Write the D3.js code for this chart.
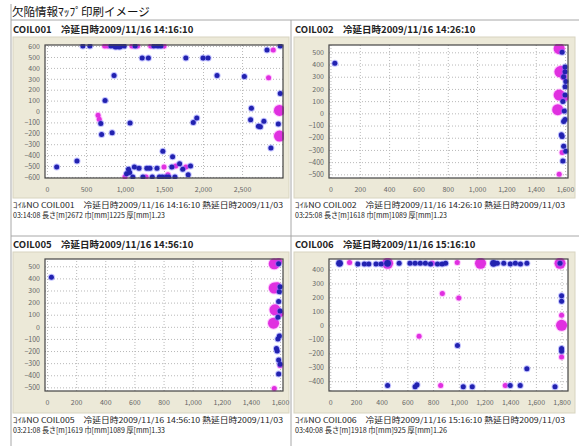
<!DOCTYPE html>
<html>
<head>
<meta charset="utf-8">
<script src="https://cdn.jsdelivr.net/npm/d3@7/dist/d3.min.js"></script>
<style>
  body { margin: 0; background: #fff; }
  svg { display: block; }
  text { font-family: "Noto Sans CJK JP", "DejaVu Sans", sans-serif; }
</style>
</head>
<body>
<script>
// page title and coil records
const pageTitle = '欠陥情報ﾏｯﾌﾟ印刷イメージ'
const coilHeaders = [
  'COIL001　冷延日時2009/11/16 14:16:10',
  'COIL002　冷延日時2009/11/16 14:26:10',
  'COIL005　冷延日時2009/11/16 14:56:10',
  'COIL006　冷延日時2009/11/16 15:16:10'
]
const coilFooters = [
  ['ｺｲﾙNO COIL001　冷延日時2009/11/16 14:16:10 熱延日時2009/11/03', '03:14:08 長さ[m]2672 巾[mm]1225 厚[mm]1.23'],
  ['ｺｲﾙNO COIL002　冷延日時2009/11/16 14:26:10 熱延日時2009/11/03', '03:25:08 長さ[m]1618 巾[mm]1089 厚[mm]1.23'],
  ['ｺｲﾙNO COIL005　冷延日時2009/11/16 14:56:10 熱延日時2009/11/03', '03:21:08 長さ[m]1619 巾[mm]1089 厚[mm]1.33'],
  ['ｺｲﾙNO COIL006　冷延日時2009/11/16 15:16:10 熱延日時2009/11/03', '03:40:08 長さ[m]1918 巾[mm]925 厚[mm]1.26']
]

// axis ticks
const xTicks = [
  [0, 500, 1000, 1500, 2000, 2500],
  [0, 200, 400, 600, 800, 1000, 1200, 1400, 1600],
  [0, 200, 400, 600, 800, 1000, 1200, 1400, 1600],
  [0, 200, 400, 600, 800, 1000, 1200, 1400, 1600, 1800]
]
const yTicks = [
  [600, 500, 400, 300, 200, 100, 0, -100, -200, -300, -400, -500, -600],
  [500, 400, 300, 200, 100, 0, -100, -200, -300, -400, -500],
  [500, 400, 300, 200, 100, 0, -100, -200, -300, -400, -500],
  [400, 300, 200, 100, 0, -100, -200, -300, -400]
]
const xDomains = [[-25, 3025], [-10, 1620], [-14, 1620], [-10, 1850]]
const yDomains = [[-610, 610], [-530, 560], [-530, 560], [-470, 475]]

// defects: [length position, width position, grade]
const coil001Blue = [
  [460, 600, 1], [550, 600, 1], [820, 600, 1], [880, 600, 2], [930, 600, 2], [990, 600, 1],
  [1130, 600, 1], [1370, 600, 1], [1420, 600, 1], [1460, 600, 1], [2820, 565, 1], [2990, 600, 1],
  [1220, 490, 1], [1300, 490, 1], [1780, 490, 1], [2000, 490, 1], [2065, 490, 1],
  [860, 330, 1], [2180, 330, 1], [2530, 320, 1], [2990, 165, 1], [745, 100, 1], [2620, 30, 1],
  [690, -110, 1], [1065, -105, 1], [2610, -75, 1], [1920, -60, 1], [1875, -100, 1],
  [2710, -135, 1], [2735, -140, 1], [2780, -90, 1], [2965, -115, 1], [700, -210, 1], [835, -195, 1],
  [2870, -335, 1], [1485, -365, 1], [1610, -415, 1], [385, -455, 1], [125, -510, 1],
  [1020, -570, 1], [1045, -530, 1], [1060, -560, 1], [1100, -600, 1], [1120, -510, 1], [1180, -520, 1],
  [1230, -600, 1], [1280, -520, 1], [1320, -520, 1], [1350, -600, 1], [1410, -520, 1], [1440, -600, 1],
  [1480, -600, 1], [1530, -600, 1], [1560, -600, 1], [1600, -510, 1], [1640, -600, 1], [1700, -480, 1],
  [1740, -530, 1], [1810, -580, 1], [1840, -500, 1]
]
const coil001Pink = [
  [740, 600, 1], [780, 600, 1], [1090, 600, 1], [1160, 600, 1], [1330, 600, 1], [1500, 600, 1],
  [2900, 565, 1], [2840, 310, 1], [655, -35, 1], [670, -70, 1], [1000, -600, 1], [1500, -510, 1],
  [1270, -600, 1], [1650, -500, 1], [1780, -510, 1], [1550, -580, 1], [2980, 10, 3], [2980, -225, 3]
]
const coil002Blue = [
  [30, 410, 1], [1580, 500, 1], [1600, 380, 1], [1600, 340, 1], [1590, 300, 1], [1605, 260, 1],
  [1600, 218, 1], [1600, 150, 1], [1585, 96, 1], [1595, 20, 1], [1590, -67, 1], [1600, -50, 1],
  [1575, -175, 1], [1580, -190, 1], [1590, -270, 1], [1605, -310, 1], [1585, -390, 1]
]
const coil002Pink = [
  [1560, 530, 3], [1565, 340, 3], [1560, 150, 3], [1550, 30, 3], [1575, 360, 2], [1600, 130, 2],
  [1590, 300, 2], [1560, -500, 1], [1580, -320, 1]
]
const coil005Blue = [
  [30, 410, 1], [1590, 520, 1], [1600, 330, 1], [1595, 290, 1], [1590, 210, 1], [1600, 130, 1],
  [1585, 80, 1], [1595, -75, 1], [1585, -100, 1], [1575, -180, 1], [1580, -200, 1], [1590, -275, 1],
  [1600, -310, 1], [1590, -390, 1]
]
const coil005Pink = [
  [1560, 520, 3], [1560, 320, 3], [1565, 140, 3], [1555, 30, 3], [1590, 540, 2], [1600, 110, 2],
  [1580, 340, 2], [1600, -320, 1], [1560, -510, 1]
]
const coil006Blue = [
  [72, 444, 2], [214, 440, 1], [265, 440, 1], [300, 440, 1], [356, 440, 1], [395, 440, 1], [446, 444, 2],
  [536, 444, 1], [620, 444, 1], [660, 444, 1], [700, 444, 1], [740, 444, 1], [780, 440, 1],
  [834, 440, 1], [870, 440, 1], [898, 444, 1], [1270, 444, 2], [1300, 444, 1], [1350, 444, 1],
  [1400, 440, 1], [1440, 444, 1], [1480, 440, 1], [1530, 444, 1], [1788, 444, 1],
  [990, -145, 1], [1530, -310, 1], [1800, 212, 1], [1800, 172, 1], [1800, -165, 1], [1800, -185, 1],
  [446, -430, 1], [660, -440, 1], [675, -425, 1], [1035, -440, 1], [1105, -440, 1], [1400, -430, 1],
  [1478, -430, 1], [1749, -440, 1]
]
const coil006Pink = [
  [150, 450, 1], [446, 444, 3], [795, 444, 1], [988, 450, 1], [1169, 444, 3], [1788, 444, 3],
  [872, 228, 1], [1000, 196, 1], [691, -78, 1], [1800, 73, 1], [1800, 0, 3], [1800, -226, 1],
  [859, -430, 1], [1362, -430, 1]
]
const blueSets = [coil001Blue, coil002Blue, coil005Blue, coil006Blue]
const pinkSets = [coil001Pink, coil002Pink, coil005Pink, coil006Pink]

const W = 579, H = 446
const svg = d3.select('body').append('svg').attr('width', W).attr('height', H)

const lineColor = '#a8a8a8'
const beige = '#ece9d8'
const radius = d3.scaleOrdinal().domain([1, 2, 3]).range([2.5, 3.4, 5.5])
const fmt = d3.format(',')

// page frame
svg.append('text').attr('x', 12).attr('y', 16).attr('font-size', 11.5).attr('fill', '#111').text(pageTitle)
const frame = [[11, 4, 11, H], [11, 20, W, 20], [291, 20, 291, H], [11, 236, W, 236]]
frame.forEach(([x1, y1, x2, y2]) => {
  svg.append('line').attr('x1', x1).attr('y1', y1).attr('x2', x2).attr('y2', y2)
    .attr('stroke', lineColor).attr('stroke-width', 1)
})

const cols = [
  { bx0: 13, bx1: 289, px0: 45, px1: 283, tx: 13 },
  { bx0: 294, bx1: 575, px0: 329, px1: 568, tx: 295 }
]
const rows = [
  { by0: 37, by1: 198, py0: 45, py1: 178, hy: 33, fy: [208, 218] },
  { by0: 252, by1: 413, py0: 259, py1: 391, hy: 248, fy: [423, 433] }
]
const footerWidths = [270, 152]

const drawPanel = (i) => {
  const c = cols[i % 2], r = rows[Math.floor(i / 2)]
  const g = svg.append('g')

  g.append('text').attr('x', c.tx).attr('y', r.hy).attr('font-size', 9.5)
    .attr('font-weight', 'bold').attr('fill', '#222').text(coilHeaders[i])

  g.append('rect').attr('x', c.bx0).attr('y', r.by0)
    .attr('width', c.bx1 - c.bx0).attr('height', r.by1 - r.by0)
    .attr('fill', beige).attr('stroke', '#d8d4c0')

  const x = d3.scaleLinear().domain(xDomains[i]).range([c.px0, c.px1])
  const y = d3.scaleLinear().domain(yDomains[i]).range([r.py1, r.py0])

  g.append('rect').attr('x', c.px0).attr('y', r.py0)
    .attr('width', c.px1 - c.px0).attr('height', r.py1 - r.py0).attr('fill', '#fff')

  // grid
  g.append('g').attr('transform', `translate(0,${r.py1})`)
    .call(d3.axisBottom(x).tickValues(xTicks[i]).tickSize(-(r.py1 - r.py0)).tickFormat(''))
    .call(a => a.select('.domain').remove())
    .call(a => a.selectAll('line').attr('stroke', '#b8b8b8').attr('stroke-dasharray', '1,2'))
  g.append('g').attr('transform', `translate(${c.px0},0)`)
    .call(d3.axisLeft(y).tickValues(yTicks[i]).tickSize(-(c.px1 - c.px0)).tickFormat(''))
    .call(a => a.select('.domain').remove())
    .call(a => a.selectAll('line').attr('stroke', '#b8b8b8').attr('stroke-dasharray', '1,2'))

  // tick labels
  g.append('g').attr('transform', `translate(0,${r.py1})`)
    .call(d3.axisBottom(x).tickValues(xTicks[i]).tickSize(0).tickPadding(9).tickFormat(fmt))
    .call(a => a.select('.domain').remove())
    .call(a => a.selectAll('text').attr('font-size', 7).attr('fill', '#666')
      .attr('font-family', '"Liberation Serif", serif'))
  g.append('g').attr('transform', `translate(${c.px0},0)`)
    .call(d3.axisLeft(y).tickValues(yTicks[i]).tickSize(0).tickPadding(5).tickFormat(fmt))
    .call(a => a.select('.domain').remove())
    .call(a => a.selectAll('text').attr('font-size', 7).attr('fill', '#666')
      .attr('font-family', '"Liberation Serif", serif'))

  const clipId = 'clip' + i
  g.append('clipPath').attr('id', clipId).append('rect')
    .attr('x', c.px0 - 1).attr('y', r.py0 - 1)
    .attr('width', c.px1 - c.px0 + 2).attr('height', r.py1 - r.py0 + 2)
  const dots = g.append('g').attr('clip-path', `url(#${clipId})`)

  const drawDots = (data, glow, core) => {
    dots.selectAll(null).data(data).enter().append('circle')
      .attr('cx', d => x(d[0])).attr('cy', d => y(d[1]))
      .attr('r', d => radius(d[2]) + 1).attr('fill', glow).attr('opacity', 0.45)
    dots.selectAll(null).data(data).enter().append('circle')
      .attr('cx', d => x(d[0])).attr('cy', d => y(d[1]))
      .attr('r', d => radius(d[2])).attr('fill', core)
  }
  drawDots(pinkSets[i], '#ff80ff', '#e030e0')
  drawDots(blueSets[i], '#7070ff', '#2222b0')

  g.append('rect').attr('x', c.px0).attr('y', r.py0)
    .attr('width', c.px1 - c.px0).attr('height', r.py1 - r.py0)
    .attr('fill', 'none').attr('stroke', '#444').attr('stroke-width', 1.2)

  coilFooters[i].forEach((t, k) => {
    g.append('text').attr('x', c.tx).attr('y', r.fy[k]).attr('font-size', 7.5)
      .attr('textLength', footerWidths[k]).attr('lengthAdjust', 'spacingAndGlyphs')
      .attr('fill', '#222').text(t)
  })
}

d3.range(4).forEach(drawPanel)
</script>
</body>
</html>
